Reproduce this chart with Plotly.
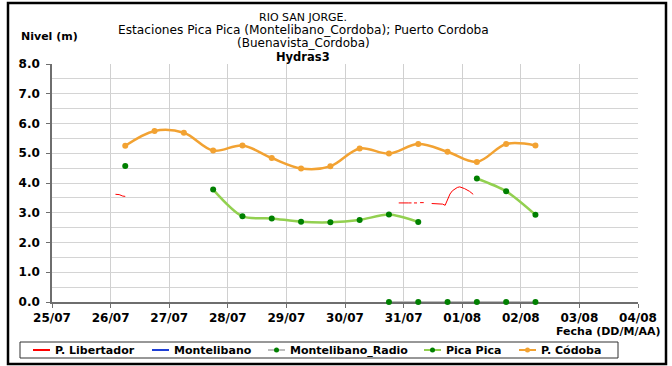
import pandas as pd
import plotly.graph_objects as go

# ---- data -------------------------------------------------------------
# half-day readings (06:00 and 18:00) from 26/07 to 02/08
sample_times = pd.date_range("2011-07-26 06:00", "2011-08-02 06:00", freq="12h")

cordoba_level = [5.25, 5.75, 5.69, 5.09, 5.26, 4.84, 4.49, 4.56,
                 5.16, 4.99, 5.31, 5.05, 4.71, 5.31, 5.26]

pica_pica_level = [4.57, None, None, 3.78, 2.88, 2.81, 2.70, 2.68,
                   2.76, 2.94, 2.69, None, 4.15, 3.72, 2.93]

radio_times = sample_times[9:]
radio_level = [0.0, 0.0, 0.0, 0.0, 0.0, 0.0]

libertador_times = [
    "2011-07-26 02:00", "2011-07-26 03:30", "2011-07-26 05:00", "2011-07-26 06:00",
    "2011-07-26 07:00",
    "2011-07-30 22:00", "2011-07-31 00:00", "2011-07-31 02:00", "2011-07-31 03:15",
    "2011-07-31 03:45",
    "2011-07-31 04:15", "2011-07-31 05:30",
    "2011-07-31 06:00",
    "2011-07-31 06:45", "2011-07-31 08:15",
    "2011-07-31 10:00",
    "2011-07-31 11:30", "2011-07-31 14:00", "2011-07-31 16:00", "2011-07-31 17:00",
    "2011-07-31 18:00", "2011-07-31 19:00", "2011-07-31 20:00", "2011-07-31 22:00",
    "2011-07-31 23:00", "2011-08-01 01:00", "2011-08-01 03:00", "2011-08-01 04:30",
]
libertador_level = [
    3.62, 3.61, 3.56, 3.55,
    None,
    3.33, 3.34, 3.33, 3.33,
    None,
    3.33, 3.33,
    None,
    3.34, 3.34,
    None,
    3.31, 3.31, 3.29, 3.25,
    3.45, 3.63, 3.74, 3.85,
    3.87, 3.81, 3.72, 3.62,
]

montelibano_times = list(sample_times)
montelibano_level = [None] * len(sample_times)

y_ticks = [0, 1, 2, 3, 4, 5, 6, 7, 8]
y_tick_text = ["0.0", "1.0", "2.0", "3.0", "4.0", "5.0", "6.0", "7.0", "8.0"]

legend_names = ["P. Libertador", "Montelibano", "Montelibano_Radio", "Pica Pica", "P. Códoba"]

# ---- styling ----------------------------------------------------------
RED = "#FF0000"
BLUE = "#1F3FD6"
SILVER = "#BDBDBD"
LIGHT_GREEN = "#92D050"
DARK_GREEN = "#008000"
ORANGE = "#F2A232"
FONT = "DejaVu Sans"

W, H = 672, 366
ML, MR, MT, MB = 52, 34, 64, 64
PW, PH = W - ML - MR, H - MT - MB


def xp(px):
    return (px - ML) / PW


def yp(py):
    return (H - MB - py) / PH


fig = go.Figure()

fig.add_trace(go.Scatter(
    x=libertador_times, y=libertador_level, mode="lines",
    line=dict(color=RED, width=1), connectgaps=False,
    name=legend_names[0], showlegend=False, hoverinfo="skip"))

fig.add_trace(go.Scatter(
    x=montelibano_times, y=montelibano_level, mode="lines",
    line=dict(color=BLUE, width=2),
    name=legend_names[1], showlegend=False))

fig.add_trace(go.Scatter(
    x=radio_times, y=radio_level, mode="lines+markers",
    line=dict(color=SILVER, width=2),
    marker=dict(color=DARK_GREEN, size=6),
    cliponaxis=False, name=legend_names[2], showlegend=False))

fig.add_trace(go.Scatter(
    x=sample_times, y=pica_pica_level, mode="lines+markers",
    line=dict(color=LIGHT_GREEN, width=2.5, shape="spline", smoothing=0.8),
    marker=dict(color=DARK_GREEN, size=6), connectgaps=False,
    name=legend_names[3], showlegend=False))

fig.add_trace(go.Scatter(
    x=sample_times, y=cordoba_level, mode="lines+markers",
    line=dict(color=ORANGE, width=2.5, shape="spline", smoothing=1.0),
    marker=dict(color=ORANGE, size=6),
    name=legend_names[4], showlegend=False))

fig.update_xaxes(
    type="date", range=["2011-07-25", "2011-08-04"],
    tick0="2011-07-25", dtick=86400000, tickformat="%d/%m",
    showgrid=True, gridcolor="#D0D0D0", gridwidth=1,
    showline=True, linecolor="#6E6E6E", linewidth=1.5,
    ticks="outside", ticklen=4, tickcolor="#6E6E6E",
    tickfont=dict(family=FONT, size=12, color="black", weight="bold"),
    zeroline=False, layer="below traces")

fig.update_yaxes(
    range=[0, 8], tickvals=y_ticks, ticktext=y_tick_text,
    showgrid=True, gridcolor="#D4D4D4", gridwidth=1.4,
    minor=dict(dtick=0.5, showgrid=True, gridcolor="#D4D4D4", gridwidth=1.4),
    showline=True, linecolor="#6E6E6E", linewidth=1.5,
    ticks="outside", ticklen=4, tickcolor="#6E6E6E",
    tickfont=dict(family=FONT, size=12, color="black", weight="bold"),
    ticklabelstandoff=4,
    zeroline=False, layer="below traces")

# titles and axis captions
title_lines = [
    ("RIO SAN JORGE.", 17, "normal", 11),
    ("Estaciones Pica Pica (Montelibano_Cordoba); Puerto Cordoba", 30, "normal", 12.2),
    ("(Buenavista_Cordoba)", 43, "normal", 12),
    ("Hydras3", 57, "bold", 11.5),
]
annotations = []
for text, ypix, wt, fs in title_lines:
    annotations.append(dict(
        text=text, x=xp(303), y=yp(ypix), xref="paper", yref="paper",
        xanchor="center", yanchor="middle", showarrow=False,
        font=dict(family=FONT, size=fs, color="black", weight=wt)))

annotations.append(dict(
    text="Nivel (m)", x=xp(19), y=yp(37), xref="paper", yref="paper",
    xanchor="left", yanchor="middle", showarrow=False,
    font=dict(family=FONT, size=11, color="black", weight="bold")))
annotations.append(dict(
    text="Fecha (DD/M/AA)", x=xp(662), y=yp(331), xref="paper", yref="paper",
    xanchor="right", yanchor="middle", showarrow=False,
    font=dict(family=FONT, size=11, color="black", weight="bold")))

shapes = []
# outer frame
shapes.append(dict(type="rect", xref="paper", yref="paper",
                   x0=xp(8), x1=xp(666), y0=yp(364), y1=yp(3),
                   line=dict(color="black", width=2.5), layer="below"))
# legend box
shapes.append(dict(type="rect", xref="paper", yref="paper",
                   x0=xp(20), x1=xp(618), y0=yp(358), y1=yp(342),
                   line=dict(color="#303030", width=1), fillcolor="white"))

legend_styles = [
    (RED, None), (BLUE, None), (SILVER, DARK_GREEN),
    (LIGHT_GREEN, DARK_GREEN), (ORANGE, ORANGE),
]
legend_sample_x = [33, 152, 268, 424, 519]
ly = 350
for name, (lc, mc), sx in zip(legend_names, legend_styles, legend_sample_x):
    shapes.append(dict(type="line", xref="paper", yref="paper",
                       x0=xp(sx), x1=xp(sx + 17), y0=yp(ly), y1=yp(ly),
                       line=dict(color=lc, width=2)))
    if mc:
        cx = sx + 8.5
        shapes.append(dict(type="circle", xref="paper", yref="paper",
                           x0=xp(cx - 2.5), x1=xp(cx + 2.5),
                           y0=yp(ly + 2.5), y1=yp(ly - 2.5),
                           line=dict(color=mc, width=0), fillcolor=mc))
    annotations.append(dict(
        text=name, x=xp(sx + 20), y=yp(ly), xref="paper", yref="paper",
        xanchor="left", yanchor="middle", showarrow=False,
        font=dict(family=FONT, size=11, color="black", weight="bold")))

fig.update_layout(
    width=W, height=H,
    margin=dict(l=ML, r=MR, t=MT, b=MB),
    paper_bgcolor="white", plot_bgcolor="white",
    showlegend=False,
    annotations=annotations, shapes=shapes,
)

fig.write_html("out.html")
